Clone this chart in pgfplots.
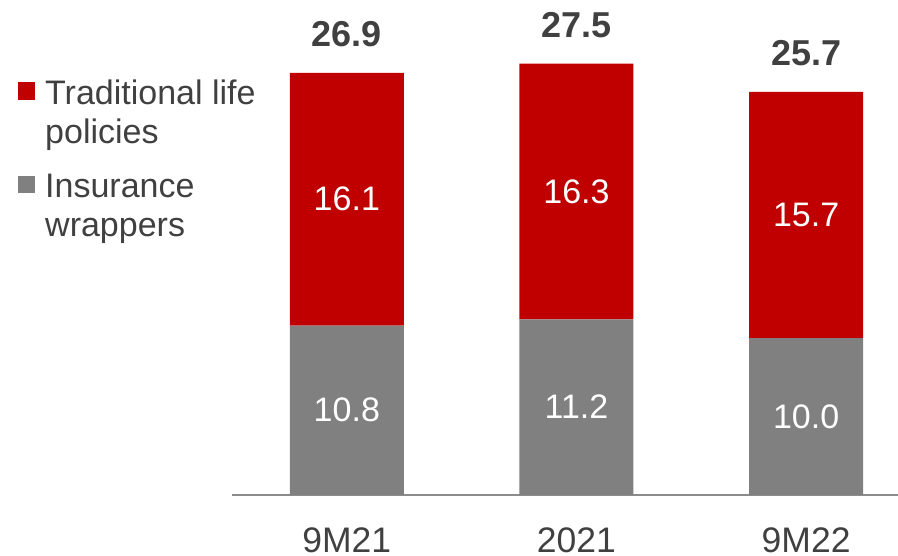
\documentclass[border=0pt]{standalone}
\usepackage{pgfplots}
\pgfplotsset{compat=1.18}
\usepackage{fontspec}
\setmainfont{Liberation Sans}
\definecolor{myred}{HTML}{C00000}
\definecolor{mygray}{HTML}{808080}
\definecolor{txt}{HTML}{404040}
\definecolor{axgray}{HTML}{8C8C8C}
\pgfplotsset{base/.style={
  at={(232pt,61pt)}, anchor=south west, scale only axis,
  width=666pt, height=470.7pt, xmin=-0.5, xmax=2.4, ymin=0, ymax=30, clip=false}}
\begin{document}
\begin{tikzpicture}
\begin{axis}[base, ybar stacked, bar width=114pt,
  axis x line*=bottom, axis y line=none,
  x axis line style={draw=axgray, line width=1.5pt},
  xtick={0,1,2}, xticklabels={9M21,2021,9M22},
  major tick length=0pt,
  xticklabel style={anchor=base, yshift=-58pt, font=\fontsize{35.5}{40}\selectfont, text=txt, inner sep=0pt},
  legend style={at={(-0.3213,0.882)}, anchor=north west, draw=none, fill=none, inner sep=0pt,
    row sep=29pt, column sep=10pt,
    nodes={inner sep=0pt, align=left, font=\fontsize{34}{39}\selectfont, text=txt}},
  legend cell align=left, reverse legend,
  legend image code/.code={\fill[#1] (0pt,13pt) rectangle (17pt,30.5pt);},
]
\addplot[fill=mygray, draw=none] coordinates {(0,10.8) (1,11.2) (2,10.0)};
\addlegendentry{Insurance\\wrappers}
\addplot[fill=myred, draw=none] coordinates {(0,16.1) (1,16.3) (2,15.7)};
\addlegendentry{Traditional life\\policies}
\end{axis}
\begin{axis}[base, hide axis, nodes near coords, point meta=explicit symbolic]
\addplot[draw=none, mark=none, nodes near coords style={anchor=center, text=white, font=\fontsize{34}{40}\selectfont}]
  coordinates {(0,5.4)[10.8] (1,5.6)[11.2] (2,5.0)[10.0]};
\addplot[draw=none, mark=none, nodes near coords style={anchor=center, text=white, font=\fontsize{34}{40}\selectfont}]
  coordinates {(0,18.85)[16.1] (1,19.35)[16.3] (2,17.85)[15.7]};
\addplot[draw=none, mark=none, nodes near coords style={anchor=base, yshift=26pt, text=txt, font=\bfseries\fontsize{36}{40}\selectfont}]
  coordinates {(0,26.9)[26.9] (1,27.5)[27.5] (2,25.7)[25.7]};
\end{axis}
\pgfresetboundingbox
\path[use as bounding box] (0,0) rectangle (898pt,556pt);
\end{tikzpicture}
\end{document}
